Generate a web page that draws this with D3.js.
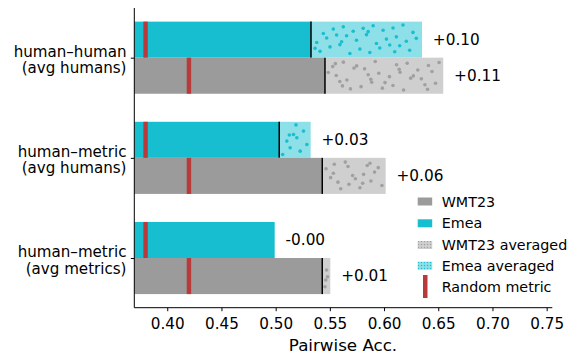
<!DOCTYPE html>
<html>
<head>
<meta charset="utf-8">
<script src="https://cdn.jsdelivr.net/npm/d3@7/dist/d3.min.js"></script>
<style>
  html, body { margin: 0; padding: 0; background: #fff; }
  svg { display: block; font-family: "DejaVu Sans", sans-serif; }
</style>
</head>
<body>
<script>
// ---- data ----
const groupLine1 = ["human\u2013human", "human\u2013metric", "human\u2013metric"];
const groupLine2 = ["(avg humans)", "(avg humans)", "(avg metrics)"];
const wmtBase  = [0.5455, 0.5430, 0.5430];
const wmtAvg   = [0.6546, 0.6015, 0.5504];
const emeaBase = [0.5326, 0.5033, 0.4991];
const emeaAvg  = [0.6350, 0.5323, 0.4985];
const wmtDiffLabels  = ["+0.11", "+0.06", "+0.01"];
const emeaDiffLabels = ["+0.10", "+0.03", "-0.00"];
const randomWmt = 0.42;
const randomEmea = 0.38;
const xTicks = [0.40, 0.45, 0.50, 0.55, 0.60, 0.65, 0.70, 0.75];
const legendLabels = ["WMT23", "Emea", "WMT23 averaged", "Emea averaged", "Random metric"];

// ---- style ----
const W = 568, H = 354;
const C = {
  gray: "#9b9b9b", grayLight: "#cfcfcf", grayDot: "#a0a0a0",
  cyan: "#17becf", cyanLight: "#8ddfe8", cyanDot: "#19bfd0",
  red: "#b83a3a"
};
const FS_TICK = "15.2px", FS_YLAB = "15.1px", FS_VAL = "15.3px", FS_LEG = "14.3px", FS_XLAB = "16.7px";

const svg = d3.select("body").append("svg").attr("width", W).attr("height", H);

const x = d3.scaleLinear().domain([0.3696, 0.7552]).range([134.3, 552.3]);
const y = d3.scaleLinear().domain([-0.496, 2.496]).range([8, 307.7]);
const barH = y(0.36) - y(0);

const defs = svg.append("defs");
function legendPattern(id, bg, dot) {
  const p = defs.append("pattern").attr("id", id).attr("patternUnits", "userSpaceOnUse")
    .attr("width", 3).attr("height", 3);
  p.append("rect").attr("width", 3).attr("height", 3).attr("fill", bg);
  p.append("circle").attr("cx", 1.5).attr("cy", 1.5).attr("r", 0.7).attr("fill", dot);
}
legendPattern("pg", C.grayLight, C.grayDot);
legendPattern("pc", C.cyanLight, C.cyanDot);

// deterministic low-discrepancy (Halton) sequence for the dot texture
function halton(i, b) { let f = 1, r = 0; while (i > 0) { f /= b; r += f * (i % b); i = Math.floor(i / b); } return r; }
let haltonIdx = 1;

const g = svg.append("g");

function drawBar(i, base, avg, offset, fill, light, dotCol) {
  const yTop = y(i + offset);
  g.append("rect").attr("x", x(x.domain()[0])).attr("y", yTop)
    .attr("width", x(base) - x(x.domain()[0])).attr("height", barH).attr("fill", fill);
  if (avg > base) {
    const rx = x(base), rw = x(avg) - x(base);
    g.append("rect").attr("x", rx).attr("y", yTop).attr("width", rw).attr("height", barH).attr("fill", light);
    const n = Math.max(4, Math.round(rw * barH / 115));
    for (let k = 0; k < n; k++) {
      const u = halton(haltonIdx, 2), v = halton(haltonIdx, 3); haltonIdx++;
      g.append("circle").attr("cx", rx + 2.4 + u * Math.max(0, rw - 4.8))
        .attr("cy", yTop + 3 + v * (barH - 6)).attr("r", 1.8).attr("fill", dotCol);
    }
    g.append("line").attr("x1", x(base)).attr("x2", x(base))
      .attr("y1", yTop).attr("y2", yTop + barH).attr("stroke", "#000").attr("stroke-width", 1.5);
  }
}

for (let i = 0; i < 3; i++) {
  drawBar(i, emeaBase[i], emeaAvg[i], -0.36, C.cyan, C.cyanLight, C.cyanDot);
  drawBar(i, wmtBase[i], wmtAvg[i], 0, C.gray, C.grayLight, C.grayDot);
  g.append("rect").attr("x", x(randomEmea) - 2.2).attr("y", y(i - 0.36)).attr("width", 4.4)
    .attr("height", barH).attr("fill", C.red);
  g.append("rect").attr("x", x(randomWmt) - 2.2).attr("y", y(i)).attr("width", 4.4)
    .attr("height", barH).attr("fill", C.red);
  g.append("text").attr("x", x(Math.max(emeaBase[i], emeaAvg[i]) + 0.01)).attr("y", y(i - 0.18))
    .attr("dy", "0.35em").style("font-size", FS_VAL).text(emeaDiffLabels[i]);
  g.append("text").attr("x", x(Math.max(wmtBase[i], wmtAvg[i]) + 0.01)).attr("y", y(i + 0.18))
    .attr("dy", "0.35em").style("font-size", FS_VAL).text(wmtDiffLabels[i]);
}

// axes
const xAxis = d3.axisBottom(x).tickValues(xTicks).tickFormat(d3.format(".2f")).tickSize(3.5).tickPadding(7);
const ax = svg.append("g").attr("transform", `translate(0,${y.range()[1]})`).call(xAxis);
ax.attr("font-family", null).attr("font-size", null);
ax.select(".domain").attr("d", `M${x.range()[0]},0H${x.range()[1]}`).attr("stroke", "#000").attr("stroke-width", 1);
ax.selectAll(".tick line").attr("stroke", "#000");
ax.selectAll(".tick text").style("font-size", FS_TICK).style("font-family", "DejaVu Sans").attr("fill", "#000");

const yAxis = d3.axisLeft(y).tickValues([0, 1, 2]).tickFormat("").tickSize(3.5);
const ay = svg.append("g").attr("transform", `translate(${x.range()[0]},0)`).call(yAxis);
ay.select(".domain").attr("d", `M0,${y.range()[0]}V${y.range()[1]}`).attr("stroke", "#000");
ay.selectAll(".tick line").attr("stroke", "#000");

for (let i = 0; i < 3; i++) {
  const t = svg.append("text").attr("text-anchor", "end").style("font-size", FS_YLAB).attr("fill", "#000");
  t.append("tspan").attr("x", 126.5).attr("y", y(i) - 1).text(groupLine1[i]);
  t.append("tspan").attr("x", 126.5).attr("y", y(i) + 15.6).text(groupLine2[i]);
}

svg.append("text").attr("x", 343).attr("y", 350.7)
  .attr("text-anchor", "middle").style("font-size", FS_XLAB).text("Pairwise Acc.");

// legend
const legFills = [C.gray, C.cyan, "url(#pg)", "url(#pc)"];
const legY = [201.5, 223.3, 245, 265.7, 286.7];
legendLabels.forEach((lab, k) => {
  if (k < 4) {
    svg.append("rect").attr("x", 417.7).attr("y", legY[k] - 4).attr("width", 14.5).attr("height", 8).attr("fill", legFills[k]);
  } else {
    svg.append("rect").attr("x", 423).attr("y", 275).attr("width", 4.5).attr("height", 23).attr("fill", C.red);
  }
  svg.append("text").attr("x", 441.7).attr("y", legY[k]).attr("dy", "0.35em").style("font-size", FS_LEG).text(lab);
});
</script>
</body>
</html>
